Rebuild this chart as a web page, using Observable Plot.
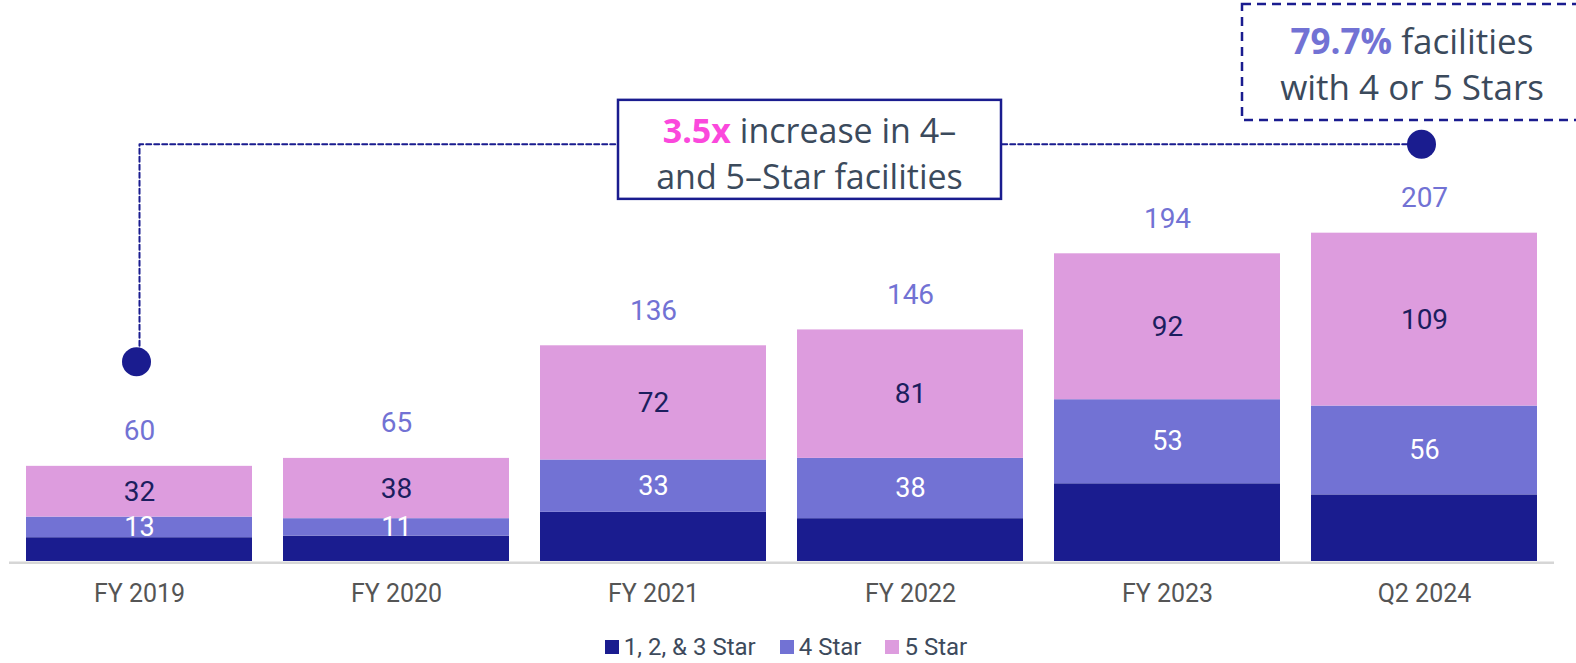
<!DOCTYPE html>
<html><head><meta charset="utf-8">
<script src="https://cdn.jsdelivr.net/npm/d3@7"></script>
<script src="https://cdn.jsdelivr.net/npm/@observablehq/plot@0.6"></script>
<style>
html,body{margin:0;padding:0;background:#fff;overflow:hidden;width:1576px;height:663px}
#legend{display:flex;justify-content:center;align-items:center;height:33px;font-family:Roboto,sans-serif;font-size:24px;color:#3d4a5c;padding-right:4px}
.item{display:flex;align-items:center;margin:0 12px}
.sw{width:14px;height:14px;margin-right:5px}
</style></head><body><div id="chart"></div><div id="legend"></div>
<script>
const periods = ["FY 2019","FY 2020","FY 2021","FY 2022","FY 2023","Q2 2024"];
const tiers = ["1, 2, & 3 Star","4 Star","5 Star"];
const tierColors = ["#1a1c8f","#7272d4","#dd9cde"];
const star123 = [15,16,31,27,49,42];
const star4 = [13,11,33,38,53,56];
const star5 = [32,38,72,81,92,109];
const totals = [60,65,136,146,194,207];
// callout anchor levels (in facility-count units)
const calloutStart = 126;
const calloutLevel = 263;
const growthBold = "3.5x";
const growthText = ["increase in 4–", "and 5–Star facilities"];
const shareBold = "79.7%";
const shareText = ["facilities", "with 4 or 5 Stars"];

const seriesByTier = [star123, star4, star5];
const rows = [];
periods.forEach((p, i) => tiers.forEach((t, j) => rows.push({period: p, tier: t, value: seriesByTier[j][i]})));
const totalRows = periods.map((p, i) => ({period: p, total: totals[i]}));
const calloutPath = [
  {period: periods[0], v: calloutStart},
  {period: periods[0], v: calloutLevel},
  {period: periods[periods.length - 1], v: calloutLevel}
];
const calloutDots = [calloutPath[0], calloutPath[2]];
const navy = "#1a1c8f";

const plot = Plot.plot({
  width: 1576, height: 630,
  marginLeft: 9, marginRight: 22, marginTop: 0, marginBottom: 69,
  style: {fontFamily: "Roboto, sans-serif", fontSize: "25px", color: "#555", background: "#fff", overflow: "visible"},
  x: {domain: periods, paddingInner: 0.122, paddingOuter: 0.061, tickSize: 0, tickPadding: 23, label: null},
  y: {domain: [0, 353.7], axis: null},
  color: {domain: tiers, range: tierColors},
  marks: [
    Plot.barY(rows, {x: "period", y: "value", fill: "tier"}),
    Plot.ruleY([0], {stroke: "#d6d6d6", strokeWidth: 2.5, dy: 1.2}),
    Plot.text(rows, Plot.stackY({x: "period", y: "value", z: "tier",
      text: d => d.tier === tiers[2] ? String(d.value) : "", fill: "#1b1e5e", fontSize: 28})),
    Plot.text(rows, Plot.stackY({x: "period", y: "value", z: "tier",
      text: d => d.tier === tiers[1] ? String(d.value) : "", fill: "#ffffff", fontSize: 27})),
    Plot.text(totalRows, {x: "period", y: "total", text: d => String(d.total), dy: -35, fill: "#7272d4", fontSize: 28}),
    Plot.line(calloutPath, {x: "period", y: "v", stroke: navy, strokeWidth: 2, strokeDasharray: "5,3"}),
    Plot.dot(calloutDots, {x: "period", y: "v", r: 14.5, fill: navy, dx: -3})
  ]
});
document.getElementById("chart").appendChild(plot);

// annotation boxes positioned from the plot's scales
const svg = d3.select(plot);
const ys = plot.scale("y"), xs = plot.scale("x");
const lineY = ys.apply(calloutLevel);
const bw = xs.bandwidth;
const x21 = xs.apply(periods[2]) + bw / 2, x22 = xs.apply(periods[3]) + bw / 2;
const b1cx = (x21 + x22) / 2 + 28;
const g = svg.append("g").attr("font-family", "'Open Sans', sans-serif").attr("font-size", 34)
  .style("font-variant-ligatures", "none");
g.append("rect").attr("x", b1cx - 191.5).attr("y", lineY - 44).attr("width", 383).attr("height", 99)
  .attr("fill", "#fff").attr("stroke", navy).attr("stroke-width", 2.5);
const t1 = g.append("text").attr("x", b1cx).attr("y", lineY - 1).attr("text-anchor", "middle").attr("fill", "#3b4a5c");
t1.append("tspan").attr("fill", "#fb48dc").attr("font-weight", "bold").text(growthBold);
t1.append("tspan").text(" " + growthText[0]);
g.append("text").attr("x", b1cx).attr("y", lineY + 45).attr("text-anchor", "middle").attr("fill", "#3b4a5c").text(growthText[1]);

const xq = xs.apply(periods[5]) + bw / 2;
const b2cx = xq - 12;
g.append("rect").attr("x", xq - 182).attr("y", 4).attr("width", 420).attr("height", 116)
  .attr("fill", "none").attr("stroke", navy).attr("stroke-width", 2.5).attr("stroke-dasharray", "9,6");
const t2 = g.append("text").attr("x", b2cx).attr("y", 54).attr("text-anchor", "middle").attr("fill", "#3b4a5c").attr("font-size", 35);
t2.append("tspan").attr("fill", "#7272d4").attr("font-weight", "bold").text(shareBold);
t2.append("tspan").text(" " + shareText[0]);
g.append("text").attr("x", b2cx).attr("y", 100).attr("text-anchor", "middle").attr("fill", "#3b4a5c").attr("font-size", 35).text(shareText[1]);

// legend
const leg = d3.select("#legend");
tiers.forEach((t, i) => {
  const it = leg.append("div").attr("class", "item");
  it.append("div").attr("class", "sw").style("background", tierColors[i]);
  it.append("span").text(t);
});
</script></body></html>
